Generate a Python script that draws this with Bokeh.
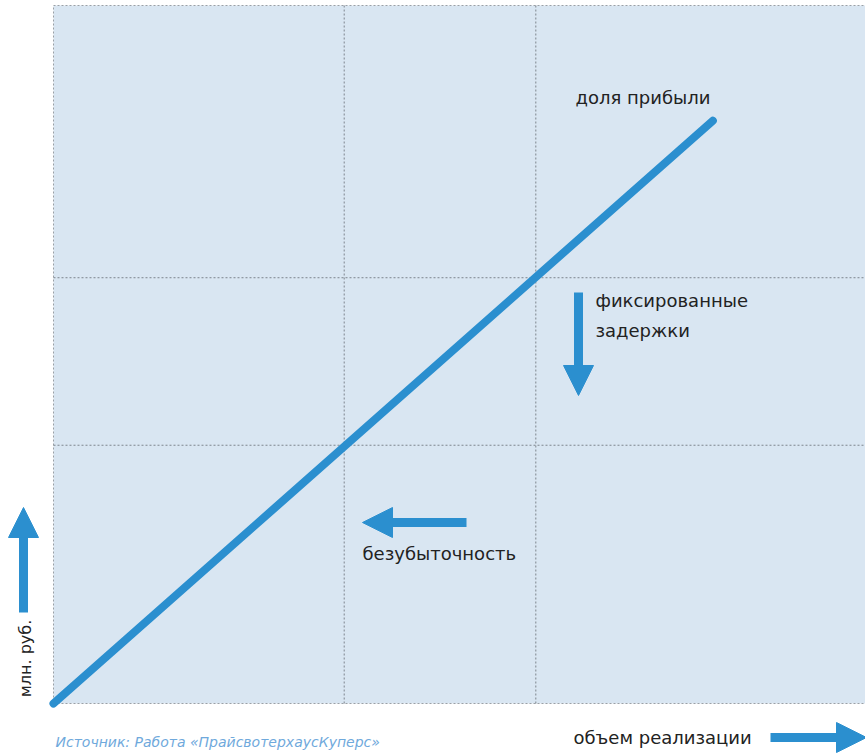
import math
from bokeh.plotting import figure
from bokeh.models import Range1d, Label, Arrow, NormalHead
from bokeh.embed import file_html
from bokeh.resources import INLINE

# --- data ---
volume = [0, 81.2]          # объем реализации (relative units)
profit = [0, 83.5]          # млн. руб.
x_grid_ticks = [35.8, 59.4]
y_grid_ticks = [37.0, 61.0]

title_profit = "доля прибыли"
title_fixed = ["фиксированные", "задержки"]
title_breakeven = "безубыточность"
x_label = "объем реализации"
y_label = "млн. руб."
source = "Источник: Работа «ПрайсвотерхаусКуперс»"

W, H = 865, 754
L, R, T, B = 53, 865, 5, 703      # pixel box of the chart area
XMAX, YMAX = 100, 100

def dx(px):
    return (px - L) / (R - L) * XMAX

def dy(py):
    return (B - py) / (B - T) * YMAX

BLUE = "#2b8fcf"
FONT = "DejaVu Sans"
TXT = "#222222"

p = figure(width=W, height=H, x_range=Range1d(dx(0), dx(W)), y_range=Range1d(dy(H), dy(0)),
           output_backend="svg", toolbar_location=None,
           min_border_left=0, min_border_right=0, min_border_top=0, min_border_bottom=0)
p.xaxis.visible = False
p.yaxis.visible = False
p.xgrid.visible = False
p.ygrid.visible = False
p.background_fill_color = "white"
p.border_fill_color = "white"
p.outline_line_color = None

# chart area
p.quad(left=[0], right=[XMAX], bottom=[0], top=[YMAX], fill_color="#d9e6f2",
       line_color="#9aa0a6", line_dash="2 2", line_width=1)
# grid lines limited to the chart area
p.segment(x0=x_grid_ticks, y0=[0] * len(x_grid_ticks), x1=x_grid_ticks, y1=[YMAX] * len(x_grid_ticks),
          line_color="#7d858d", line_width=1, line_dash="2 2")
p.segment(x0=[0] * len(y_grid_ticks), y0=y_grid_ticks, x1=[XMAX] * len(y_grid_ticks), y1=y_grid_ticks,
          line_color="#7d858d", line_width=1, line_dash="2 2")

p.line(volume, profit, line_width=8, line_color=BLUE, line_cap="round")

def lab(px, py, text, size=18, color=TXT, angle=0, style="normal", align="left"):
    p.add_layout(Label(x=dx(px), y=dy(py), text=text, text_font=FONT, text_font_size=f"{size}px",
                       text_color=color, text_baseline="middle", text_align=align,
                       angle=angle, text_font_style=style))

lab(575, 97, title_profit)
lab(595, 300, title_fixed[0])
lab(595, 330, title_fixed[1])
lab(362, 553, title_breakeven)
lab(573, 737, x_label)
lab(25, 658, y_label, size=16, angle=math.pi / 2, align="center")
lab(55, 741, source, size=14, color="#6fa9dc", style="italic")

def arrow(x0, y0, x1, y1):
    p.add_layout(Arrow(x_start=dx(x0), y_start=dy(y0), x_end=dx(x1), y_end=dy(y1),
                       line_color=BLUE, line_width=9,
                       end=NormalHead(size=30, fill_color=BLUE, line_color=BLUE, line_width=1)))

arrow(578, 292, 578, 395)
arrow(466, 522, 362, 522)
arrow(23, 612, 23, 507)
arrow(770, 737, 866, 737)

open("out.html", "w").write(file_html(p, INLINE))
